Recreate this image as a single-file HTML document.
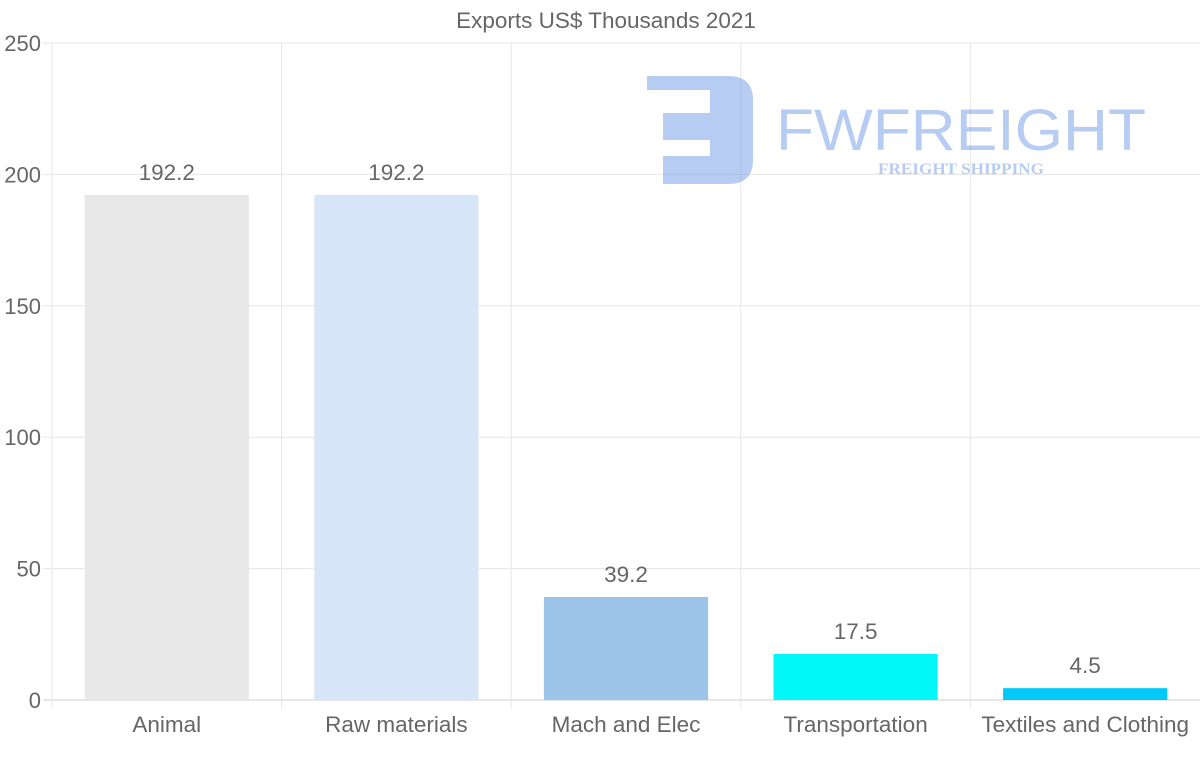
<!DOCTYPE html>
<html><head><meta charset="utf-8"><style>
html,body{margin:0;padding:0;background:#fff;}
svg{display:block;font-family:"Liberation Sans",Arial,sans-serif;}
</style></head><body>
<svg id="chart" width="1200" height="763">
<text x="606" y="28" text-anchor="middle" font-size="22.5" fill="#666">Exports US$ Thousands 2021</text>
<g id="grid"></g>
<g id="logo" opacity="0.5">
  <path d="M647 76 H728 Q753 76 753 100 V160 Q753 184 728 184 H663 V156 H710 V140 H663 V113 H710 V90 H647 Z" fill="#6f9ae6"/>
  <text x="776" y="150" font-size="58" fill="#6f9ae6" textLength="370" lengthAdjust="spacingAndGlyphs">FWFREIGHT</text>
  <text x="878" y="174" font-size="16" font-weight="bold" font-family="Liberation Serif,serif" fill="#6f9ae6" textLength="166" lengthAdjust="spacingAndGlyphs">FREIGHT SHIPPING</text>
</g>
<g id="bars"></g>
</svg>
<script>
const categories = ["Animal","Raw materials","Mach and Elec","Transportation","Textiles and Clothing"];
const values = [192.2,192.2,39.2,17.5,4.5];
const valueLabels = ["192.2","192.2","39.2","17.5","4.5"];
const colors = ["#e8e8e8","#d6e6f8","#9cc4e8","#00f8f8","#00c8f8"];
const yTicks = [0,50,100,150,200,250];

const NS="http://www.w3.org/2000/svg";
const L=52,R=1200,T=43,B=700,ymax=250;
const y=v=>B-(v/ymax)*(B-T);
const band=(R-L)/categories.length;
const x=i=>L+i*band;
const grid=document.getElementById('grid'), bars=document.getElementById('bars');
function mk(tag,attrs,parent){const e=document.createElementNS(NS,tag);for(const k in attrs)e.setAttribute(k,attrs[k]);parent.appendChild(e);return e;}
yTicks.forEach(t=>{
  const l=mk('line',{x1:43,x2:R,y1:y(t),y2:y(t),stroke:t===0?'#ccc':'#e6e6e6','stroke-width':1},grid);
  
  
  const tx=mk('text',{x:41,y:y(t)+8,'text-anchor':'end','font-size':22,fill:'#666'},grid);
  tx.textContent=t;
  
  
});
for(let i=0;i<categories.length;i++){
  const l=mk('line',{x1:x(i),x2:x(i),y1:T,y2:B+8,stroke:'#e6e6e6','stroke-width':1},grid);
  
  
}
categories.forEach((c,i)=>{
  const bw=band*0.715, bx=x(i)+(band-bw)/2;
  const r=mk('rect',{x:bx,y:y(values[i]),width:bw,height:B-y(values[i]),fill:colors[i]},bars);
  
  
  const v=mk('text',{x:x(i)+band/2,y:y(values[i])-15,'text-anchor':'middle','font-size':22.5,fill:'#666'},bars);
  v.textContent=valueLabels[i];
  
  
  const cl=mk('text',{x:x(i)+band/2,y:732,'text-anchor':'middle','font-size':22.5,fill:'#666'},bars);
  cl.textContent=c;
  
  
});
</script>
</body></html>
